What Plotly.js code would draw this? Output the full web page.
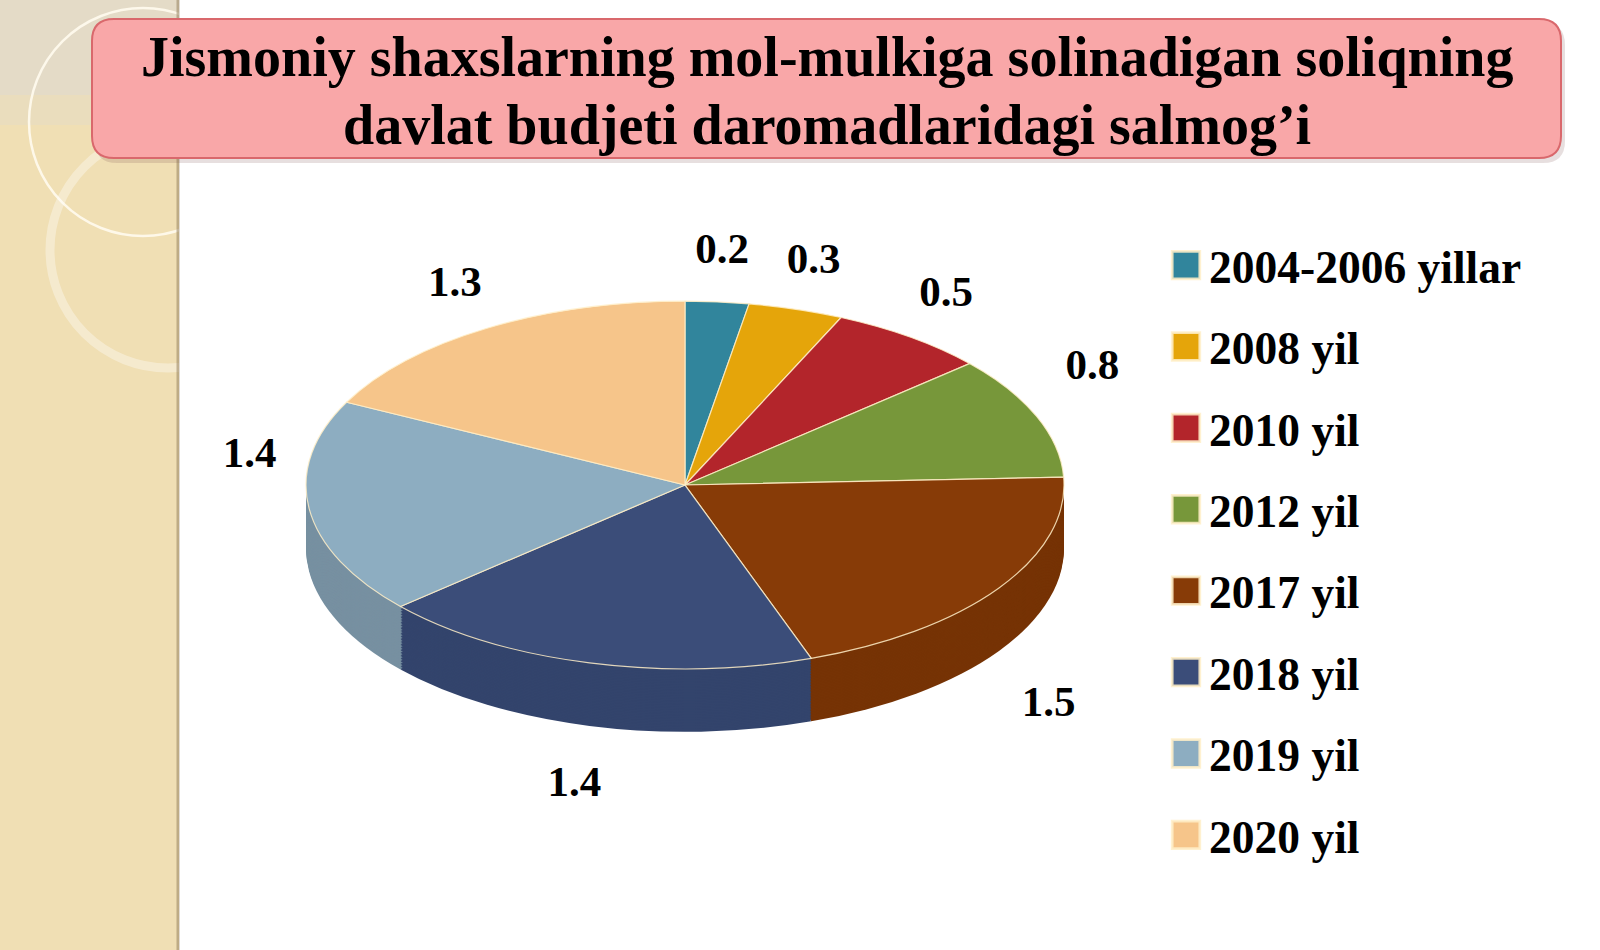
<!DOCTYPE html>
<html>
<head>
<meta charset="utf-8">
<script src="https://cdn.plot.ly/plotly-3.0.1.min.js"></script>
<style>
  html, body { margin: 0; padding: 0; background: #fff; }
  #chart { width: 1600px; height: 950px; }
</style>
</head>
<body>
<div id="chart"></div>
<script>
// chart data
const labels = ['2004-2006 yillar', '2008 yil', '2010 yil', '2012 yil', '2017 yil', '2018 yil', '2019 yil', '2020 yil'];
const values = [0.2, 0.3, 0.5, 0.8, 1.5, 1.4, 1.4, 1.3];
const topColors = ['#31859C', '#E5A50A', '#B3252B', '#77973A', '#873B07', '#3B4D79', '#8DADC1', '#F6C58A'];
const sideColors = ['#296F83', '#C48D08', '#931F24', '#627E30', '#763305', '#33446C', '#7790A1', '#D9AC78'];
const titleLines = ['Jismoniy shaxslarning mol-mulkiga solinadigan soliqning', 'davlat budjeti daromadlaridagi salmog’i'];

const W = 1600, H = 950;
const TILT = 0.485;      // vertical squash of the pie top
const DEPTH = 63;        // pie thickness in px
const SIDE_STEPS = 40;   // copies used to build the side wall
const LEGEND_STEP = 81.4;
const serif = 'Liberation Serif, Times New Roman, serif';

function px(x) { return x / W; }
function py(y) { return 1 - y / H; }

function roundRect(x0, y0, x1, y1, r) {
  const p = (x, y) => px(x) + ',' + py(y);
  return 'M' + p(x0 + r, y0) + ' L' + p(x1 - r, y0) + ' Q' + p(x1, y0) + ' ' + p(x1, y0 + r) +
    ' L' + p(x1, y1 - r) + ' Q' + p(x1, y1) + ' ' + p(x1 - r, y1) +
    ' L' + p(x0 + r, y1) + ' Q' + p(x0, y1) + ' ' + p(x0, y1 - r) +
    ' L' + p(x0, y0 + r) + ' Q' + p(x0, y0) + ' ' + p(x0 + r, y0) + ' Z';
}

function circle(cx, cy, r, color, width) {
  return {type: 'circle', xref: 'paper', yref: 'paper', layer: 'below',
    x0: px(cx - r), x1: px(cx + r), y0: py(cy + r), y1: py(cy - r),
    line: {color: color, width: width}};
}

function band(y0, y1, color) {
  return {type: 'rect', xref: 'paper', yref: 'paper', layer: 'below',
    x0: 0, x1: px(179), y0: py(y1), y1: py(y0), fillcolor: color, line: {width: 0}};
}

function titleLine(text, y) {
  return {xref: 'paper', yref: 'paper', x: px(827), y: py(y), xanchor: 'center', yanchor: 'middle',
    showarrow: false, text: text,
    font: {family: serif, size: 56, weight: 'bold', color: '#000'}};
}

const pieDomain = {x: [0.19125, 0.665], y: [0.0905, 0.8884]};

const data = [];
for (let i = 0; i < SIDE_STEPS; i++) {
  data.push({
    type: 'pie', labels: labels, values: values, sort: false, direction: 'clockwise',
    domain: pieDomain, textinfo: 'none', showlegend: false, hoverinfo: 'skip',
    marker: {colors: sideColors, line: {width: 0}}
  });
}
data.push({
  type: 'pie', labels: labels, values: values, sort: false, direction: 'clockwise',
  domain: pieDomain, textinfo: 'value', textposition: 'outside', hoverinfo: 'skip',
  outsidetextfont: {family: serif, size: 43, weight: 'bold', color: '#000'},
  marker: {colors: topColors, line: {color: 'rgba(255,238,200,0.85)', width: 1.2}}
});

const layout = {
  width: W, height: H,
  margin: {l: 0, r: 0, t: 0, b: 0},
  paper_bgcolor: '#ffffff',
  showlegend: true,
  legend: {
    x: 0.7275, xanchor: 'left', y: py(229), yanchor: 'top',
    bgcolor: 'rgba(0,0,0,0)',
    font: {family: serif, size: 45.5, weight: 'bold', color: '#000'}
  },
  shapes: [
    band(0, 95, '#E4DBC7'),
    band(95, 125, '#EADDBD'),
    band(125, 950, '#F0DFB4'),
    circle(143, 122, 114, 'rgba(255,251,238,0.9)', 2.5),
    circle(168, 250, 118, 'rgba(255,255,255,0.35)', 9),
    {type: 'rect', xref: 'paper', yref: 'paper', layer: 'below',
      x0: px(179), x1: 1, y0: 0, y1: 1, fillcolor: '#ffffff', line: {width: 0}},
    {type: 'line', xref: 'paper', yref: 'paper', layer: 'below',
      x0: px(178), x1: px(178), y0: 0, y1: 1, line: {color: 'rgba(150,130,95,0.55)', width: 3}},
    {type: 'path', xref: 'paper', yref: 'paper', layer: 'below',
      path: roundRect(95, 23, 1565, 163, 22), fillcolor: 'rgba(120,80,80,0.18)', line: {width: 0}},
    {type: 'path', xref: 'paper', yref: 'paper', layer: 'below',
      path: roundRect(92, 19, 1561, 158, 22), fillcolor: '#F9A7A8',
      line: {color: '#D9686C', width: 2}}
  ],
  annotations: [titleLine(titleLines[0], 57), titleLine(titleLines[1], 125)]
};

// squash the flat pie into a tilted disc and stack the side copies under it
function tiltPie(gd) {
  const traces = gd.querySelectorAll('.pielayer .trace');
  const top = traces[traces.length - 1];
  let x0 = Infinity, y0 = Infinity, x1 = -Infinity, y1 = -Infinity;
  top.querySelectorAll('path.surface').forEach(p => {
    const b = p.getBBox();
    x0 = Math.min(x0, b.x); y0 = Math.min(y0, b.y);
    x1 = Math.max(x1, b.x + b.width); y1 = Math.max(y1, b.y + b.height);
  });
  const cx = (x0 + x1) / 2, cy = (y0 + y1) / 2;
  traces.forEach((tr, i) => {
    const dz = i < traces.length - 1 ? DEPTH * (SIDE_STEPS - i) / SIDE_STEPS : 0;
    tr.querySelectorAll('path.surface').forEach(p => {
      p.setAttribute('transform', 'translate(0,' + (cy + dz) + ') scale(1,' + TILT + ') translate(0,' + (-cy) + ')');
      p.style.vectorEffect = 'non-scaling-stroke';
    });
  });
  // move the value labels round the tilted rim, using the slice mid angles from plotly
  const pts = gd.calcdata[gd.calcdata.length - 1];
  top.querySelectorAll('g.slice').forEach((s, i) => {
    const g = s.querySelector('g.slicetext');
    if (!g) return;
    const b = g.getBBox();
    const tx = b.x + b.width / 2, ty = b.y + b.height / 2;
    let u = pts[i] && pts[i].pxmid ? pts[i].pxmid : [tx - cx, ty - cy];
    const len = Math.hypot(u[0], u[1]);
    const ux = u[0] / len, uy = u[1] / len;
    const drop = (75 + 30 * ux) * Math.min(1, Math.max(0, (uy - 0.2) / 0.3)) - 82 * Math.pow(1 - Math.abs(uy), 2);
    const nx = cx + 439 * ux, ny = cy + 237 * uy + drop;
    g.setAttribute('transform', 'translate(' + (nx - tx) + ',' + (ny - ty) + ')');
  });
  top.querySelectorAll('path.textline').forEach(p => p.remove());
}

function spaceLegend(gd) {
  const items = gd.querySelectorAll('.legend .traces');
  if (!items.length) return;
  const m = /translate\(([-\d.]+)[ ,]+([-\d.]+)\)/.exec(items[0].getAttribute('transform') || '');
  const bx = m ? +m[1] : 0, by = m ? +m[2] : 0;
  items.forEach((it, i) => it.setAttribute('transform', 'translate(' + bx + ',' + (by + i * LEGEND_STEP) + ')'));
  gd.querySelectorAll('.legend .legendpie').forEach(p => p.setAttribute('transform', 'translate(22,0) scale(2.3)'));
  gd.querySelectorAll('.legend .legendtext').forEach(t => t.setAttribute('transform', 'translate(5,0)'));
  gd.querySelectorAll('.legend .scrollbox').forEach(s => s.removeAttribute('clip-path'));
  gd.querySelectorAll('.legend').forEach(s => s.removeAttribute('clip-path'));
}

Plotly.newPlot('chart', data, layout, {staticPlot: true}).then(gd => {
  tiltPie(gd);
  spaceLegend(gd);
});
</script>
</body>
</html>
